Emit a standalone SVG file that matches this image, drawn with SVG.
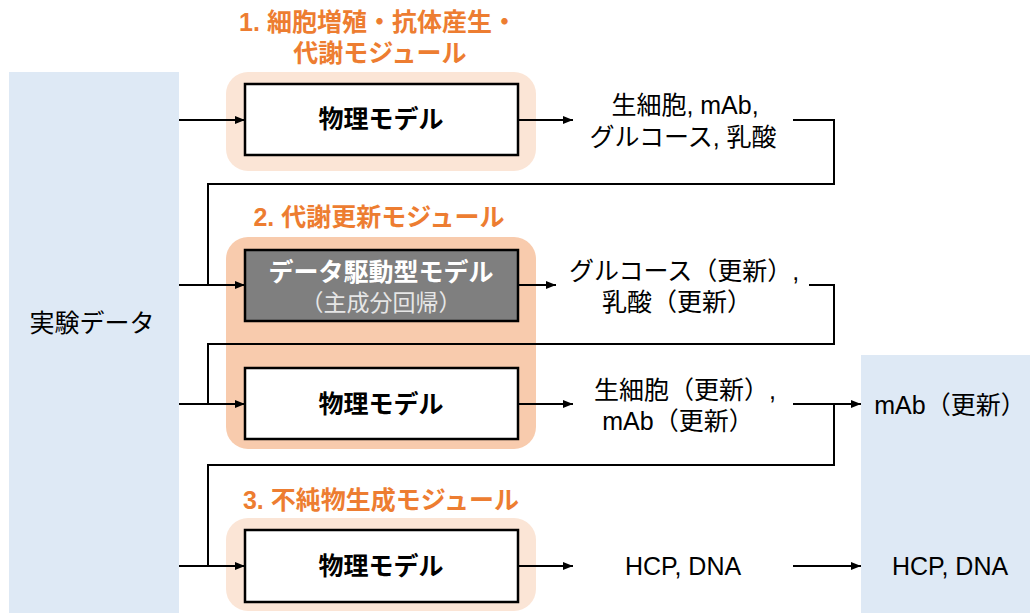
<svg xmlns="http://www.w3.org/2000/svg" width="1030" height="613" viewBox="0 0 1030 613">
<defs>
<marker id="ah" viewBox="0 0 10 8" refX="10" refY="4" markerWidth="10" markerHeight="8" markerUnits="userSpaceOnUse" orient="auto">
<path d="M0,0 L10,4 L0,8 Z" fill="#000"/>
</marker>
<style>
.t{font-family:"Liberation Sans","Noto Sans CJK JP",sans-serif;font-size:25px;fill:#000;text-anchor:middle}
.b{font-weight:bold}
.ttl{font-family:"Liberation Sans","Noto Sans CJK JP",sans-serif;font-size:25px;font-weight:bold;fill:#ED7D31;text-anchor:middle}
.box{fill:#fff;stroke:#000;stroke-width:2.5}
.c{fill:none;stroke:#000;stroke-width:2}
.panel{fill:#DEE9F5}
</style>
</defs>
<rect width="1030" height="613" fill="#fff"/>

<g id="exp-data">
<rect class="panel" x="9" y="72" width="170" height="541"/>
<text class="t" x="92" y="332">実験データ</text>
</g>

<g id="output-panel">
<rect class="panel" x="861" y="355" width="169" height="258"/>
<text class="t" x="950" y="414">mAb（更新）</text>
<text class="t" x="950" y="575">HCP, DNA</text>
</g>

<g id="module1">
<rect x="226" y="72" width="310" height="99" rx="22" fill="#FBE5D6"/>
<text class="ttl" x="378" y="31">1. 細胞増殖・抗体産生・</text>
<text class="ttl" x="380" y="62">代謝モジュール</text>
</g>
<g id="box1">
<rect class="box" x="245" y="84" width="273" height="71"/>
<text class="t b" x="381" y="128">物理モデル</text>
</g>

<g id="module2">
<rect x="226" y="237" width="310" height="212" rx="22" fill="#F8CBAD"/>
<text class="ttl" x="379" y="226">2. 代謝更新モジュール</text>
</g>
<g id="box2">
<rect x="245" y="250" width="273" height="71" fill="#7F7F7F" stroke="#000" stroke-width="2.5"/>
<text class="t b" x="381" y="281" style="fill:#fff">データ駆動型モデル</text>
<text class="t" x="381" y="311" style="fill:#E6E6E6;font-size:23px">（主成分回帰）</text>
</g>
<g id="box3">
<rect class="box" x="245" y="368" width="273" height="71"/>
<text class="t b" x="381" y="413">物理モデル</text>
</g>

<g id="module3">
<rect x="226" y="518" width="310" height="93" rx="22" fill="#FBE5D6"/>
<text class="ttl" x="381" y="509">3. 不純物生成モジュール</text>
</g>
<g id="box4">
<rect class="box" x="245" y="530" width="273" height="72"/>
<text class="t b" x="381" y="575">物理モデル</text>
</g>

<g id="labels">
<text class="t" x="685" y="114">生細胞, mAb,</text>
<text class="t" x="683" y="146">グルコース, 乳酸</text>
<text class="t" x="684" y="280">グルコース（更新）,</text>
<text class="t" x="677" y="311">乳酸（更新）</text>
<text class="t" x="685" y="399">生細胞（更新）,</text>
<text class="t" x="678" y="430">mAb（更新）</text>
<text class="t" x="683" y="575">HCP, DNA</text>
</g>

<g id="connectors">
<line class="c" x1="179" y1="120" x2="245" y2="120" marker-end="url(#ah)"/>
<line class="c" x1="518" y1="120" x2="573" y2="120" marker-end="url(#ah)"/>
<path class="c" d="M793,120 H834 V184 H208 V285"/>
<line class="c" x1="179" y1="285" x2="245" y2="285" marker-end="url(#ah)"/>
<line class="c" x1="518" y1="285" x2="556" y2="285" marker-end="url(#ah)"/>
<path class="c" d="M809,285 H834 V344 H208 V404"/>
<line class="c" x1="179" y1="404" x2="245" y2="404" marker-end="url(#ah)"/>
<line class="c" x1="518" y1="404" x2="573" y2="404" marker-end="url(#ah)"/>
<line class="c" x1="793" y1="404" x2="861" y2="404" marker-end="url(#ah)"/>
<path class="c" d="M834,404 V465 H208 V566"/>
<line class="c" x1="179" y1="566" x2="245" y2="566" marker-end="url(#ah)"/>
<line class="c" x1="518" y1="566" x2="573" y2="566" marker-end="url(#ah)"/>
<line class="c" x1="793" y1="566" x2="861" y2="566" marker-end="url(#ah)"/>
</g>
</svg>
